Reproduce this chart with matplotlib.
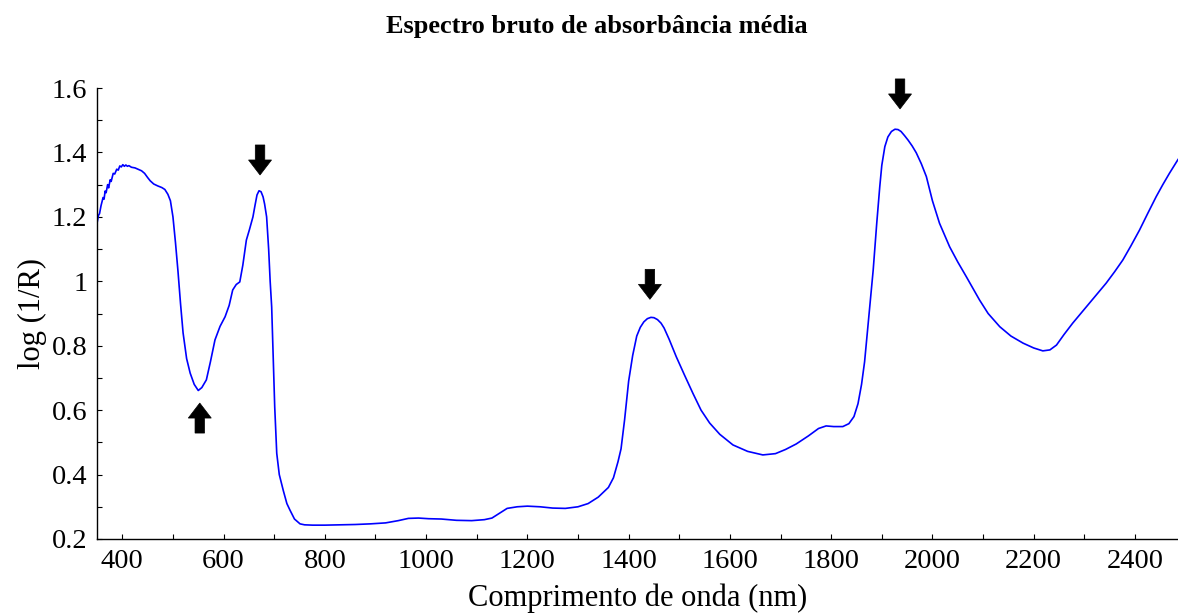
import matplotlib
matplotlib.use("Agg")
import matplotlib.pyplot as plt
from matplotlib.patches import Polygon
from matplotlib.ticker import MultipleLocator, FormatStrFormatter
import matplotlib.transforms as mtransforms

plt.rcParams["font.family"] = ["Liberation Serif", "DejaVu Serif"]

# Mean raw absorbance spectrum, log(1/R) against wavelength (nm)
wavelength = [
    350, 353, 355, 358, 362, 364, 366, 368, 371, 373, 376, 378, 382, 385, 389,
    392, 395, 398, 401, 404, 407, 410, 413, 418, 425, 432, 438, 444, 450, 455,
    462, 470, 478, 484, 490, 495, 500, 505, 510, 515, 520, 527, 534, 542, 550,
    557, 566, 574, 583, 593, 603, 611, 618, 625, 632, 638, 645, 651, 658, 662,
    666, 670, 674, 678, 681, 685, 689, 692, 695, 698, 701, 705, 710, 718, 725,
    731, 740, 751, 760, 776, 800, 830, 860, 890, 920, 945, 965, 985, 1005,
    1030, 1060, 1090, 1115, 1130, 1145, 1160, 1180, 1200, 1225, 1250, 1275,
    1300, 1320, 1340, 1360, 1370, 1379, 1385, 1392, 1400, 1408, 1416, 1423,
    1430, 1437, 1444, 1450, 1457, 1464, 1470, 1480, 1494, 1510, 1527, 1543,
    1560, 1580, 1606, 1635, 1665, 1690, 1710, 1731, 1755, 1775, 1790, 1805,
    1823, 1835, 1845, 1853, 1860, 1866, 1872, 1878, 1883, 1890, 1896, 1900,
    1906, 1912, 1919, 1926, 1932, 1938, 1945, 1952, 1960, 1968, 1978, 1988,
    2000, 2014, 2034, 2050, 2067, 2093, 2110, 2133, 2155, 2179, 2200, 2218,
    2232, 2245, 2260, 2277, 2293, 2310, 2325, 2343, 2360, 2376, 2392, 2409,
    2425, 2442, 2455, 2468, 2476, 2485,
]
absorbance = [
    1.18, 1.205, 1.21, 1.235, 1.26, 1.255, 1.28, 1.275, 1.30, 1.29, 1.315,
    1.31, 1.335, 1.333, 1.348, 1.345, 1.358, 1.355, 1.362, 1.357, 1.361,
    1.357, 1.359, 1.354, 1.352, 1.347, 1.343, 1.335, 1.322, 1.312, 1.302,
    1.296, 1.291, 1.285, 1.27, 1.25, 1.20, 1.12, 1.03, 0.93, 0.84, 0.76,
    0.715, 0.68, 0.661, 0.67, 0.694, 0.75, 0.818, 0.86, 0.89, 0.925, 0.973,
    0.99, 0.998, 1.05, 1.128, 1.16, 1.20, 1.235, 1.268, 1.281, 1.278, 1.262,
    1.24, 1.20, 1.10, 1.00, 0.92, 0.77, 0.61, 0.466, 0.40, 0.35, 0.31, 0.29,
    0.262, 0.247, 0.244, 0.243, 0.243, 0.244, 0.245, 0.247, 0.25, 0.257,
    0.264, 0.265, 0.263, 0.262, 0.258, 0.257, 0.26, 0.265, 0.28, 0.295, 0.30,
    0.302, 0.30, 0.296, 0.295, 0.30, 0.31, 0.33, 0.36, 0.39, 0.44, 0.48,
    0.57, 0.69, 0.77, 0.83, 0.857, 0.874, 0.884, 0.888, 0.887, 0.881, 0.87,
    0.855, 0.82, 0.766, 0.71, 0.652, 0.60, 0.56, 0.525, 0.492, 0.472, 0.461,
    0.465, 0.478, 0.495, 0.52, 0.543, 0.551, 0.549, 0.549, 0.558, 0.58, 0.62,
    0.68, 0.75, 0.85, 0.95, 1.035, 1.18, 1.294, 1.36, 1.418, 1.448, 1.465,
    1.472, 1.471, 1.465, 1.452, 1.438, 1.42, 1.399, 1.365, 1.325, 1.25, 1.18,
    1.107, 1.06, 1.014, 0.942, 0.90, 0.859, 0.83, 0.808, 0.793, 0.784, 0.787,
    0.802, 0.835, 0.87, 0.90, 0.932, 0.96, 0.994, 1.03, 1.066, 1.11, 1.159,
    1.21, 1.263, 1.30, 1.335, 1.355, 1.378,
]

# Highlighted features: arrow tip positions (data units) and direction
arrow_wavelength = [553, 672, 1442, 1936]
arrow_tip = [0.622, 1.33, 0.944, 1.535]
arrow_dir = ["up", "down", "down", "down"]

W, H = 1178, 614
fig = plt.figure(figsize=(W / 100, H / 100), dpi=100)
ax = fig.add_axes([97 / W, 1 - 539 / H, 1 - 97 / W, (539 - 88) / H])

ax.plot(wavelength, absorbance, color="#0000ff", linewidth=1.2)

ax.set_xlim(350, 2485)
ax.set_ylim(0.2, 1.6)
ax.xaxis.set_major_locator(MultipleLocator(200))
ax.xaxis.set_minor_locator(MultipleLocator(100))
ax.yaxis.set_major_locator(MultipleLocator(0.2))
ax.yaxis.set_minor_locator(MultipleLocator(0.1))
ax.yaxis.set_major_formatter(FormatStrFormatter("%g"))

for side in ("top", "right"):
    ax.spines[side].set_visible(False)
for side in ("left", "bottom"):
    ax.spines[side].set_linewidth(1.0)

ax.tick_params(which="both", direction="in", length=3.5, width=0.8,
               labelsize=20.5, pad=7)

ax.set_xlabel("Comprimento de onda (nm)", fontsize=22, labelpad=7)
ax.set_ylabel("log (1/R)", fontsize=22, labelpad=3)
fig.text(0.507, 1 - 27 / H, "Espectro bruto de absorbância média",
         ha="center", va="center", fontsize=19, fontweight="bold")

# Block arrow outline in pixels, tip at origin, pointing down
shaft_w, head_w, head_l, total_l = 9.5, 23.0, 15.0, 30.0
arrow_px = [
    (0, 0), (-head_w / 2, head_l), (-shaft_w / 2, head_l),
    (-shaft_w / 2, total_l), (shaft_w / 2, total_l), (shaft_w / 2, head_l),
    (head_w / 2, head_l),
]

for xw, yt, d in zip(arrow_wavelength, arrow_tip, arrow_dir):
    sign = 1 if d == "down" else -1
    verts = [(px / 100, sign * py / 100) for px, py in arrow_px]
    trans = fig.dpi_scale_trans + mtransforms.ScaledTranslation(xw, yt, ax.transData)
    ax.add_patch(Polygon(verts, closed=True, facecolor="black",
                         edgecolor="black", linewidth=0.5, transform=trans,
                         clip_on=False))

fig.savefig("out.png", dpi=100)
